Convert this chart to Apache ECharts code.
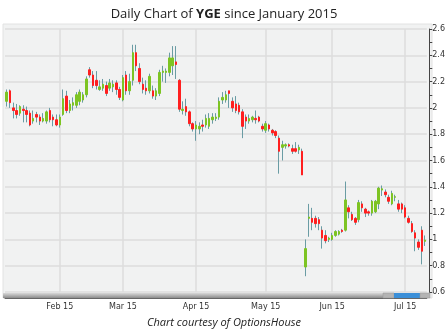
<!DOCTYPE html>
<html>
<head>
<meta charset="utf-8">
<script src="https://cdn.jsdelivr.net/npm/echarts@6/dist/echarts.min.js"></script>
<style>
html,body{margin:0;padding:0;background:#fff;}
#c{width:448px;height:335px;}
</style>
</head>
<body>
<div id="c"></div>
<script>
const dates = [
'2015-01-08','2015-01-09','2015-01-12','2015-01-13','2015-01-14','2015-01-15','2015-01-16','2015-01-20','2015-01-21','2015-01-22',
'2015-01-23','2015-01-26','2015-01-27','2015-01-28','2015-01-29','2015-01-30',
'2015-02-02','2015-02-03','2015-02-04','2015-02-05','2015-02-06','2015-02-09','2015-02-10','2015-02-11','2015-02-12','2015-02-13',
'2015-02-17','2015-02-18','2015-02-19','2015-02-20','2015-02-23','2015-02-24','2015-02-25','2015-02-26','2015-02-27',
'2015-03-02','2015-03-03','2015-03-04','2015-03-05','2015-03-06','2015-03-09','2015-03-10','2015-03-11','2015-03-12','2015-03-13',
'2015-03-16','2015-03-17','2015-03-18','2015-03-19','2015-03-20','2015-03-23','2015-03-24','2015-03-25','2015-03-26','2015-03-27',
'2015-03-30','2015-03-31',
'2015-04-01','2015-04-02','2015-04-06','2015-04-07','2015-04-08','2015-04-09','2015-04-10','2015-04-13','2015-04-14','2015-04-15',
'2015-04-16','2015-04-17','2015-04-20','2015-04-21','2015-04-22','2015-04-23','2015-04-24','2015-04-27','2015-04-28','2015-04-29','2015-04-30',
'2015-05-01','2015-05-04','2015-05-05','2015-05-06','2015-05-07','2015-05-08','2015-05-11','2015-05-12','2015-05-13','2015-05-14',
'2015-05-15','2015-05-18','2015-05-19','2015-05-20','2015-05-21','2015-05-22','2015-05-26','2015-05-27','2015-05-28','2015-05-29',
'2015-06-01','2015-06-02','2015-06-03','2015-06-04','2015-06-05','2015-06-08','2015-06-09','2015-06-10','2015-06-11','2015-06-12',
'2015-06-15','2015-06-16','2015-06-17','2015-06-18','2015-06-19','2015-06-22','2015-06-23','2015-06-24','2015-06-25','2015-06-26',
'2015-06-29','2015-06-30',
'2015-07-01','2015-07-02','2015-07-06','2015-07-07','2015-07-08','2015-07-09','2015-07-10'
];
const openVals = [
2.05,2.13,2.00,1.98,1.96,1.99,1.98,1.96,1.90,1.95,
1.93,1.90,1.90,1.98,1.93,1.91,1.87,1.95,2.09,1.98,
2.02,2.02,2.05,2.06,2.10,2.29,2.25,2.21,2.14,2.15,
2.17,2.15,2.16,2.19,2.14,2.06,2.25,2.13,2.21,2.42,
2.30,2.18,2.15,2.13,2.13,2.09,2.11,2.27,2.27,2.27,
2.32,2.35,2.21,1.98,2.01,1.97,1.88,1.84,1.84,1.87,
1.87,1.86,1.91,1.92,1.93,2.06,2.06,2.13,2.05,2.03,
2.02,1.97,1.93,1.90,1.91,1.92,1.93,1.86,1.83,1.87,
1.83,1.82,1.77,1.70,1.71,1.72,1.69,1.69,1.68,1.67,
0.79,1.16,1.16,1.16,1.15,1.07,1.03,1.00,1.00,1.03,
1.04,1.07,1.07,1.24,1.19,1.16,1.15,1.27,1.23,1.21,
1.20,1.21,1.27,1.375,1.36,1.32,1.27,1.32,1.27,1.27,
1.24,1.16,1.12,1.05,0.98,1.07,0.985
];
const closeVals = [
2.12,2.04,1.98,1.95,2.01,1.98,1.95,1.87,1.92,1.93,
1.90,1.92,1.97,1.91,1.91,1.87,1.93,2.07,1.98,2.03,
2.04,2.10,2.12,2.10,2.22,2.25,2.17,2.17,2.16,2.18,
2.11,2.19,2.18,2.14,2.08,2.23,2.13,2.20,2.42,2.32,
2.20,2.14,2.13,2.24,2.09,2.13,2.27,2.28,2.28,2.38,
2.38,2.33,1.99,1.99,1.97,1.88,1.84,1.87,1.86,1.86,
1.92,1.92,1.93,1.93,2.05,2.08,2.10,2.11,2.00,1.98,
1.97,1.86,1.90,1.92,1.93,1.91,1.90,1.84,1.88,1.84,
1.81,1.79,1.67,1.72,1.72,1.71,1.67,1.67,1.70,1.49,
0.93,1.17,1.13,1.12,1.12,1.01,0.99,1.01,1.03,1.06,
1.06,1.06,1.30,1.21,1.15,1.13,1.28,1.24,1.20,1.20,
1.29,1.29,1.39,1.385,1.34,1.29,1.35,1.325,1.23,1.23,
1.17,1.13,1.06,1.01,0.94,0.91,0.995
];
const lowVals = [
2.01,2.00,1.92,1.92,1.94,1.89,1.89,1.86,1.88,1.89,
1.87,1.89,1.88,1.89,1.86,1.86,1.85,1.94,1.96,1.96,
1.98,2.00,2.02,2.04,2.08,2.23,2.15,2.14,2.13,2.13,
2.09,2.13,2.12,2.10,2.06,2.05,2.10,2.10,2.17,2.28,
2.18,2.11,2.10,2.11,2.07,2.06,2.09,2.20,2.19,2.24,
2.25,2.22,1.97,1.95,1.94,1.86,1.82,1.75,1.80,1.82,
1.85,1.84,1.88,1.90,1.91,2.03,2.04,2.00,1.97,1.96,
1.95,1.77,1.84,1.88,1.89,1.88,1.89,1.82,1.81,1.82,
1.79,1.77,1.50,1.60,1.69,1.70,1.65,1.66,1.65,1.49,
0.72,1.02,1.07,1.09,1.07,0.93,0.97,0.98,0.99,1.02,
1.03,1.05,1.06,1.16,1.14,1.11,1.13,1.21,1.17,1.18,
1.18,1.20,1.23,1.33,1.32,1.27,1.26,1.29,1.21,1.20,
1.16,1.12,1.05,0.91,0.92,0.81,0.95
];
const highVals = [
2.14,2.14,2.04,2.03,2.02,2.02,2.01,1.98,1.98,1.97,
1.95,1.96,1.98,2.00,1.95,1.95,1.95,2.14,2.13,2.06,
2.08,2.12,2.14,2.12,2.24,2.31,2.28,2.28,2.21,2.22,
2.20,2.22,2.21,2.21,2.16,2.25,2.28,2.26,2.48,2.48,
2.34,2.23,2.21,2.26,2.17,2.15,2.29,2.32,2.30,2.42,
2.47,2.47,2.22,2.05,2.07,1.98,1.89,1.90,1.89,1.91,
1.95,1.96,1.96,1.96,2.08,2.12,2.13,2.13,2.08,2.09,
2.04,1.99,1.95,1.95,1.94,1.98,1.94,1.88,1.90,1.88,
1.84,1.83,1.79,1.75,1.73,1.73,1.72,1.74,1.72,1.69,
1.00,1.27,1.24,1.18,1.17,1.10,1.07,1.02,1.05,1.07,
1.07,1.08,1.44,1.26,1.21,1.17,1.30,1.29,1.24,1.22,
1.30,1.30,1.40,1.41,1.38,1.34,1.37,1.34,1.30,1.28,
1.26,1.18,1.14,1.07,1.00,1.10,1.03
];
const yTicks = {min: 0.6, max: 2.6, step: 0.2};
const monthNames = ['Jan','Feb','Mar','Apr','May','Jun','Jul','Aug','Sep','Oct','Nov','Dec'];
const titleParts = ['Daily Chart of ', 'YGE', ' since January 2015'];
const footerText = 'Chart courtesy of OptionsHouse';

const isMonthStart = (idx) => idx > 0 && dates[idx].slice(5,7) !== dates[idx-1].slice(5,7);
const wickData = dates.map((d,i) => [lowVals[i], highVals[i], lowVals[i], highVals[i]]);
const bodyData = dates.map((d,i) => [openVals[i], closeVals[i], Math.min(openVals[i],closeVals[i]), Math.max(openVals[i],closeVals[i])]);

const GREEN = '#7dc423', RED = '#ff1f1f', WICK = '#6a9ca4';
const chart = echarts.init(document.getElementById('c'), null, {renderer:'canvas'});
chart.setOption({
  animation: false,
  backgroundColor: '#ffffff',
  title: [{
    text: '{n|' + titleParts[0] + '}{b|' + titleParts[1] + '}{n|' + titleParts[2] + '}',
    left: 'center', top: 3,
    textStyle: {fontWeight: 'normal', rich: {
      n: {fontFamily: 'Open Sans', fontSize: 13, fontWeight: 'normal', color: '#222'},
      b: {fontFamily: 'Open Sans', fontSize: 13, fontWeight: 'bold', color: '#222'}
    }}
  }, {
    text: footerText, left: 'center', top: 312,
    textStyle: {fontFamily: 'Open Sans', fontSize: 11, fontStyle: 'italic', fontWeight: 'normal', color: '#222'}
  }],
  graphic: [
    {type: 'rect', z: -10, shape: {x: 3, y: 24, width: 429, height: 274}, style: {fill: '#f1f2f2', stroke: '#e2e2e2', lineWidth: 1}},
    {type: 'rect', z: 100, shape: {x: 3, y: 293, width: 427, height: 5},
      style: {fill: new echarts.graphic.LinearGradient(0,0,0,1,[{offset:0,color:'#d8d8d8'},{offset:1,color:'#8c8c8c'}])}},
    {type: 'rect', z: 101, shape: {x: 383, y: 293, width: 11, height: 5}, style: {fill: '#b4b4b4', stroke: '#999', lineWidth: 0.5}},
    {type: 'rect', z: 101, shape: {x: 394, y: 293, width: 26, height: 5}, style: {fill: '#3b8fd8'}},
    {type: 'rect', z: 101, shape: {x: 420, y: 293, width: 10, height: 5}, style: {fill: '#b4b4b4', stroke: '#999', lineWidth: 0.5}}
  ],
  grid: {left: 5, right: 18.5, top: 29, bottom: 43, show: false},
  xAxis: {
    type: 'category', data: dates, boundaryGap: true, offset: 6,
    axisLine: {show: true, lineStyle: {color: '#666', width: 1}},
    axisTick: {show: false},
    axisLabel: {
      interval: (idx) => isMonthStart(idx),
      formatter: (v) => monthNames[parseInt(v.slice(5,7),10)-1] + ' ' + v.slice(2,4),
      fontSize: 8, color: '#333', fontFamily: 'DejaVu Sans', margin: 5
    },
    splitLine: {show: true, alignWithLabel: true, interval: (idx) => isMonthStart(idx), lineStyle: {color: '#dcdcdc', width: 1.5}}
  },
  yAxis: {
    type: 'value', position: 'right', min: yTicks.min, max: yTicks.max, interval: yTicks.step, offset: 2.5,
    axisLine: {show: true, lineStyle: {color: '#444', width: 1}},
    axisTick: {show: true, length: 3, lineStyle: {color: '#444'}},
    minorTick: {show: true, splitNumber: 2, length: 3, lineStyle: {color: '#444'}},
    axisLabel: {fontSize: 8, color: '#333', fontFamily: 'DejaVu Sans', margin: 3},
    splitLine: {show: true, lineStyle: {color: '#dcdcdc', width: 1.5}}
  },
  series: [
    {type: 'candlestick', name: 'range', data: wickData, barWidth: 1, z: 3,
      itemStyle: {color: WICK, color0: WICK, borderColor: WICK, borderColor0: WICK, borderWidth: 1}},
    {type: 'candlestick', name: 'YGE', data: bodyData, barWidth: 2, z: 4,
      itemStyle: {color: GREEN, color0: RED, borderColor: GREEN, borderColor0: RED, borderWidth: 1}}
  ]
});
</script>
</body>
</html>
